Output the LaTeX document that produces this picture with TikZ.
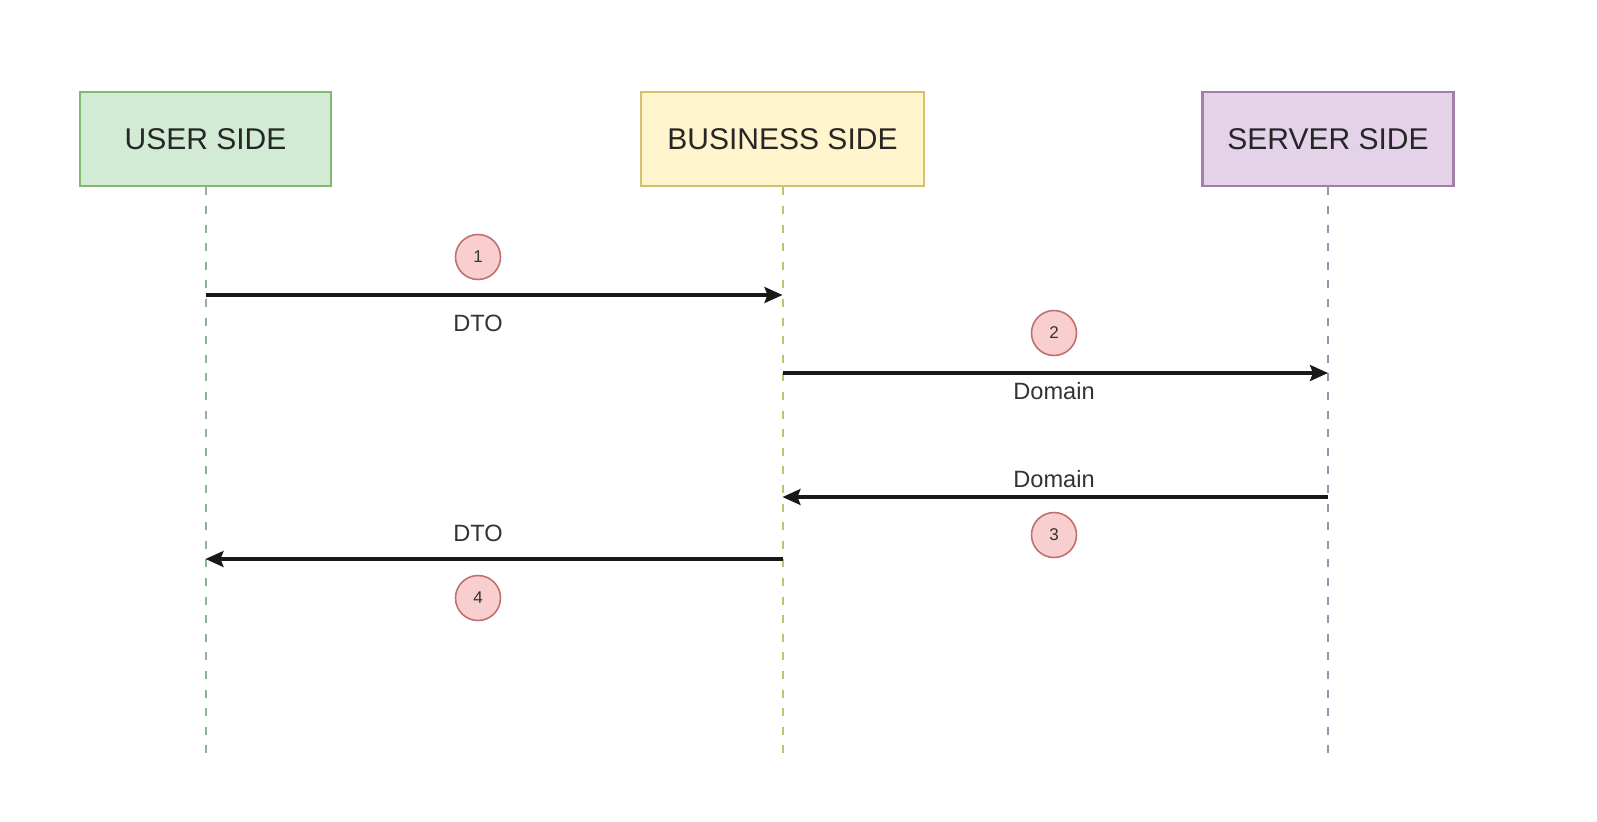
\documentclass[tikz,border=0pt]{standalone}
\usepackage{fontspec}
\setmainfont{Liberation Sans}
\usetikzlibrary{arrows.meta}

\definecolor{userfill}{HTML}{D2EBD5}
\definecolor{userline}{HTML}{82B870}
\definecolor{busfill}{HTML}{FFF4CC}
\definecolor{busline}{HTML}{D4C070}
\definecolor{srvfill}{HTML}{E3D2E8}
\definecolor{srvline}{HTML}{A080AA}
\definecolor{userlife}{HTML}{8DB48F}
\definecolor{buslife}{HTML}{BAC86C}
\definecolor{srvlife}{HTML}{A08EB0}
\definecolor{numfill}{HTML}{F8CFCE}
\definecolor{numline}{HTML}{C07070}
\definecolor{txt}{HTML}{333333}

\begin{document}
\begin{tikzpicture}[x=0.5pt,y=-0.5pt,
  side/.style={draw, line width=1.3pt, minimum height=47pt, inner sep=0pt,
    font=\fontsize{15}{18}\selectfont, text=black!85},
  life/.style={line width=1pt, dash pattern=on 4pt off 5.3pt},
  msg/.style={-{Stealth[length=9pt,width=8pt,inset=1.5pt]}, line width=1.6pt, black!90},
  lbl/.style={font=\fontsize{11.8}{14}\selectfont, text=txt},
  num/.style={circle, draw=numline, fill=numfill, line width=0.8pt,
    minimum size=22.5pt, inner sep=0pt, font=\fontsize{8.5}{10}\selectfont, text=txt}]

% cadre de la page
\useasboundingbox (0,0) rectangle (1597,821);

% Les trois acteurs
\node[side, fill=userfill, draw=userline, minimum width=125.5pt] (user) at (205.5,139) {USER SIDE};
\node[side, fill=busfill, draw=busline, minimum width=141.5pt] (business) at (782.5,139) {BUSINESS SIDE};
\node[side, fill=srvfill, draw=srvline, minimum width=125.5pt] (server) at (1328,139) {SERVER SIDE};

% Lignes de vie (pointillés)
\coordinate (userend) at (205.5,758);
\coordinate (busend) at (782.5,758);
\coordinate (srvend) at (1328,758);
\draw[life, userlife] (user.south) -- (userend);
\draw[life, buslife] (business.south) -- (busend);
\draw[life, srvlife] (server.south) -- (srvend);

% Points d'attache des messages
\coordinate (u1) at (205.5,295);
\coordinate (b1) at (782.5,295);
\coordinate (b2) at (782.5,373);
\coordinate (s2) at (1328,373);
\coordinate (s3) at (1328,497);
\coordinate (b3) at (782.5,497);
\coordinate (b4) at (782.5,559);
\coordinate (u4) at (205.5,559);

% Messages
\draw[msg] (u1) -- (b1); % DTO aller
\draw[msg] (b2) -- (s2); % Domain aller
\draw[msg] (s3) -- (b3); % Domain retour
\draw[msg] (b4) -- (u4); % DTO retour

% Etiquettes
\node[lbl] (dto1) at (478,323) {DTO};
\node[lbl] (dom2) at (1054,391) {Domain};
\node[lbl] (dom3) at (1054,479) {Domain};
\node[lbl] (dto4) at (478,533) {DTO};

% Numéros des étapes
\node[num] (n1) at (478,257) {1};
\node[num] (n2) at (1054,333) {2};
\node[num] (n3) at (1054,535) {3};
\node[num] (n4) at (478,598) {4};

\end{tikzpicture}
\end{document}
